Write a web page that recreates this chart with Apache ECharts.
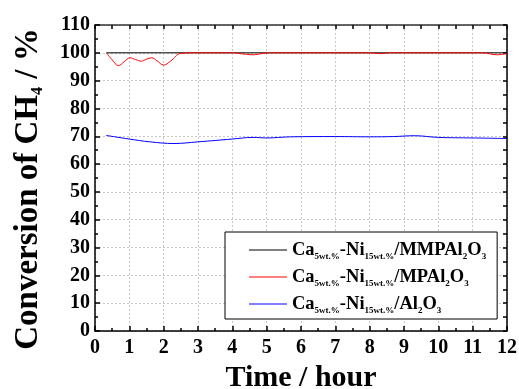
<!DOCTYPE html>
<html>
<head>
<meta charset="utf-8">
<script src="https://cdn.jsdelivr.net/npm/echarts@6.0.0/dist/echarts.min.js"></script>
<style>
  html, body { margin: 0; padding: 0; background: #fff; }
  #chart { width: 519px; height: 389px; }
</style>
</head>
<body>
<div id="chart"></div>
<script>
// values
const seriesNames = ['MMPAl', 'MPAl', 'Al'];

const mmpTime = [0.33, 2, 4, 6, 8, 10, 12];
const mmpConv = [100, 100, 100, 100, 100, 100, 100];

const mpTime = [0.33, 0.5, 0.68, 0.85, 1.02, 1.18, 1.35, 1.5, 1.65, 1.8, 2.0, 2.2, 2.5, 3.0, 4.0, 4.3, 4.6, 4.9, 5.2, 8.0, 8.3, 8.6, 11.3, 11.7, 12.0];
const mpConv = [100, 97.5, 95.4, 96.8, 98.2, 97.6, 97.0, 97.7, 98.2, 97.2, 95.6, 97.0, 99.8, 100, 100, 99.6, 99.3, 99.8, 100, 100, 99.7, 100, 100, 99.3, 99.7];

const alTime = [0.33, 1.0, 1.6, 2.3, 3.0, 4.0, 4.6, 5.0, 5.7, 7.0, 8.0, 8.7, 9.3, 10.0, 11.0, 12.0];
const alConv = [70.3, 69.0, 68.0, 67.4, 68.0, 69.0, 69.6, 69.4, 69.8, 69.9, 69.8, 69.9, 70.2, 69.6, 69.4, 69.2];

const legendLabels = {
  MMPAl: 'Ca{s|5wt.%}-Ni{s|15wt.%}/MMPAl{s|2}O{s|3}',
  MPAl: 'Ca{s|5wt.%}-Ni{s|15wt.%}/MPAl{s|2}O{s|3}',
  Al: 'Ca{s|5wt.%}-Ni{s|15wt.%}/Al{s|2}O{s|3}'
};

function pairs(xs, ys) {
  return xs.map((x, i) => [x, ys[i]]);
}

const font = 'Liberation Serif, Times New Roman, serif';
const chart = echarts.init(document.getElementById('chart'));

const tickStyle = { color: '#000', width: 1.5 };

chart.setOption({
  animation: false,
  grid: { left: 95, right: 12, top: 25, bottom: 58, outerBoundsMode: 'none', containLabel: false },
  legend: {
    data: seriesNames,
    orient: 'vertical',
    left: 225,
    top: 232,
    padding: [7, 11, 4, 24],
    itemGap: 5,
    itemWidth: 38,
    itemHeight: 1,
    icon: 'rect',
    borderColor: '#000',
    borderWidth: 1,
    backgroundColor: '#fff',
    formatter: name => legendLabels[name],
    textStyle: {
      fontFamily: font,
      fontWeight: 'bold',
      fontSize: 18.5,
      lineHeight: 22,
      color: '#000',
      rich: {
        s: { fontFamily: font, fontWeight: 'bold', fontSize: 9, lineHeight: 2, verticalAlign: 'bottom', color: '#000' }
      }
    }
  },
  xAxis: [{
    type: 'value',
    min: 0,
    max: 12,
    interval: 1,
    name: 'Time / hour',
    nameLocation: 'middle',
    nameGap: 29,
    nameTextStyle: { fontFamily: font, fontWeight: 'bold', fontSize: 30, color: '#000' },
    axisLine: { show: true, onZero: false, lineStyle: { color: '#000', width: 1.5 } },
    axisTick: { show: true, inside: true, length: 5, lineStyle: tickStyle },
    minorTick: { show: true, splitNumber: 2, length: 3, lineStyle: tickStyle },
    axisLabel: { fontFamily: font, fontWeight: 'bold', fontSize: 20, color: '#000', margin: 7 },
    splitLine: { show: true, lineStyle: { color: '#c8c8c8', type: [2, 2], width: 1 } }
  }, {
    type: 'value',
    position: 'top',
    min: 0,
    max: 12,
    interval: 1,
    axisLine: { show: true, onZero: false, lineStyle: { color: '#333', width: 1.5 } },
    axisTick: { show: true, inside: true, length: 4, lineStyle: tickStyle },
    minorTick: { show: true, splitNumber: 2, length: 4, lineStyle: tickStyle },
    axisLabel: { show: false },
    splitLine: { show: false }
  }],
  yAxis: [{
    type: 'value',
    min: 0,
    max: 110,
    interval: 10,
    name: 'Conversion of CH{s|4} / %',
    nameLocation: 'middle',
    nameRotate: 90,
    nameGap: 49,
    nameTextStyle: {
      fontFamily: font, fontWeight: 'bold', fontSize: 33, lineHeight: 36, color: '#000',
      padding: [0, 22, 0, 0],
      rich: {
        s: { fontFamily: font, fontWeight: 'bold', fontSize: 16, lineHeight: 4, verticalAlign: 'bottom', color: '#000' }
      }
    },
    axisLine: { show: true, onZero: false, lineStyle: { color: '#000', width: 1.5 } },
    axisTick: { show: true, inside: true, length: 5, lineStyle: tickStyle },
    minorTick: { show: true, splitNumber: 2, length: 3, lineStyle: tickStyle },
    axisLabel: { fontFamily: font, fontWeight: 'bold', fontSize: 20, color: '#000', margin: 5 },
    splitLine: { show: true, lineStyle: { color: '#c8c8c8', type: [2, 2], width: 1 } }
  }, {
    type: 'value',
    position: 'right',
    min: 0,
    max: 110,
    interval: 10,
    axisLine: { show: true, onZero: false, lineStyle: { color: '#000', width: 1.5 } },
    axisTick: { show: true, inside: true, length: 4, lineStyle: tickStyle },
    minorTick: { show: true, splitNumber: 2, length: 4, lineStyle: tickStyle },
    axisLabel: { show: false },
    splitLine: { show: false }
  }],
  series: [{
    name: 'MMPAl',
    type: 'line',
    data: pairs(mmpTime, mmpConv),
    symbol: 'none',
    lineStyle: { color: '#000', width: 1 },
    itemStyle: { color: '#000' }
  }, {
    name: 'MPAl',
    type: 'line',
    data: pairs(mpTime, mpConv),
    symbol: 'none',
    smooth: 0.4,
    lineStyle: { color: '#ff0000', width: 1 },
    itemStyle: { color: '#ff0000' }
  }, {
    name: 'Al',
    type: 'line',
    data: pairs(alTime, alConv),
    symbol: 'none',
    smooth: 0.4,
    lineStyle: { color: '#0000ff', width: 1 },
    itemStyle: { color: '#0000ff' }
  }]
});
</script>
</body>
</html>
